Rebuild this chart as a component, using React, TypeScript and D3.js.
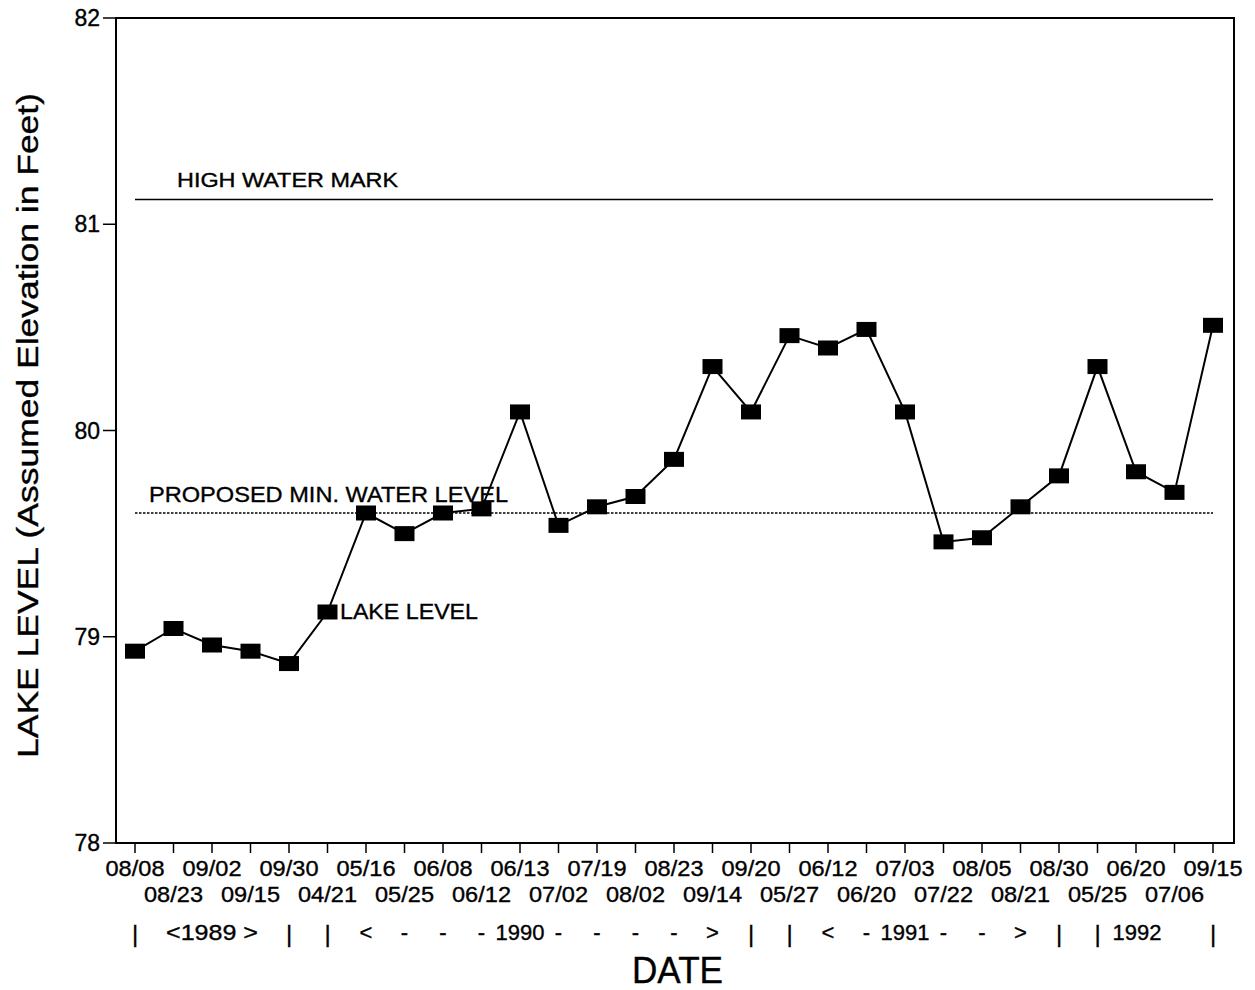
import React from "react";
import * as d3 from "d3";

const dates = ["08/08","08/23","09/02","09/15","09/30","04/21","05/16","05/25","06/08","06/12","06/13","07/02","07/19","08/02","08/23","09/14","09/20","05/27","06/12","06/20","07/03","07/22","08/05","08/21","08/30","05/25","06/20","07/06","09/15"];
const lakeLevel = [78.93,79.04,78.96,78.93,78.87,79.12,79.60,79.50,79.60,79.62,80.09,79.54,79.63,79.68,79.86,80.31,80.09,80.46,80.40,80.49,80.09,79.46,79.48,79.63,79.78,80.31,79.80,79.70,80.51];
const yTicks = [78, 79, 80, 81, 82];
const highWaterMark = 81.12;
const proposedMin = 79.60;
const yearRow: [number, string][] = [
  [0, "|"], [2, "<1989 >"], [4, "|"], [5, "|"], [6, "<"], [7, "-"], [8, "-"], [9, "-"],
  [10, "1990"], [11, "-"], [12, "-"], [13, "-"], [14, "-"], [15, ">"], [16, "|"], [17, "|"],
  [18, "<"], [19, "-"], [20, "1991"], [21, "-"], [22, "-"], [23, ">"], [24, "|"], [25, "|"],
  [26, "1992"], [28, "|"],
];

const W = 1255, H = 990;
const left = 116, right = 1234, top = 18, bottom = 843;
const font = "'Liberation Sans', Arial, Helvetica, sans-serif";

export default function App() {
  const idx = dates.map((_, i) => String(i));
  const x = d3.scalePoint<string>().domain(idx).range([135, 1213]);
  const y = d3.scaleLinear().domain([78, 82]).range([bottom, top]);
  const line = d3.line<number>().x((_, i) => x(String(i))!).y(d => y(d));
  const x0 = x("0")!, xN = x(String(dates.length - 1))!;
  const ts = { stroke: "#000", strokeWidth: 0.35 };

  return (
    <svg width={W} height={H} style={{ position: "absolute", left: 0, top: 0, background: "#fff" }} fontFamily={font}>
      <rect x={0} y={0} width={W} height={H} fill="#fff" />
      {/* frame */}
      <rect x={left} y={top} width={right - left} height={bottom - top} fill="none" stroke="#000" strokeWidth={2} />
      {/* y ticks */}
      {yTicks.map(t => (
        <g key={t}>
          <line x1={left - 13} x2={left} y1={y(t)} y2={y(t)} stroke="#000" strokeWidth={1.5} />
          <text x={100} y={y(t) + 8} textAnchor="end" fontSize={23} {...ts}>{t}</text>
        </g>
      ))}
      {/* x ticks and labels */}
      {dates.map((d, i) => (
        <g key={i}>
          <line x1={x(String(i))} x2={x(String(i))} y1={bottom} y2={bottom + 10} stroke="#000" strokeWidth={1.5} />
          <text x={x(String(i))} y={i % 2 === 0 ? 876 : 902} textAnchor="middle" fontSize={22}
            textLength={59} lengthAdjust="spacingAndGlyphs" {...ts}>{d}</text>
        </g>
      ))}
      {yearRow.map(([i, s], k) => (
        <text key={k} x={s === "1992" ? x(String(i))! + 1 : x(String(i))} y={s === "|" ? 942 : 940}
          textAnchor="middle" fontSize={s === "|" ? 24 : 22}
          textLength={s === "<1989 >" ? 92 : undefined} lengthAdjust="spacingAndGlyphs" {...ts}>{s}</text>
      ))}
      {/* reference lines */}
      <line x1={x0} x2={xN} y1={y(highWaterMark)} y2={y(highWaterMark)} stroke="#000" strokeWidth={1.5} />
      <text x={177} y={187} fontSize={20} textLength={221} lengthAdjust="spacingAndGlyphs" {...ts}>HIGH WATER MARK</text>
      <line x1={x0} x2={xN} y1={y(proposedMin)} y2={y(proposedMin)} stroke="#000" strokeWidth={1.6} strokeDasharray="2.5,1.5" />
      <text x={149} y={502} fontSize={22} textLength={359} lengthAdjust="spacingAndGlyphs" {...ts}>PROPOSED MIN. WATER LEVEL</text>
      {/* lake level series */}
      <path d={line(lakeLevel) || ""} fill="none" stroke="#000" strokeWidth={2} />
      {lakeLevel.map((v, i) => (
        <rect key={i} x={x(String(i))! - 10} y={y(v) - 7.5} width={20} height={15} fill="#000" />
      ))}
      <text x={340} y={619} fontSize={22} textLength={138} lengthAdjust="spacingAndGlyphs" {...ts}>LAKE LEVEL</text>
      {/* axis titles */}
      <text x={632} y={983} fontSize={36} textLength={91} lengthAdjust="spacingAndGlyphs" {...ts}>DATE</text>
      <text transform={`translate(38, ${(93 + 758) / 2}) rotate(-90)`} textAnchor="middle" fontSize={29}
        textLength={665} lengthAdjust="spacingAndGlyphs" {...ts}>LAKE LEVEL (Assumed Elevation in Feet)</text>
    </svg>
  );
}
